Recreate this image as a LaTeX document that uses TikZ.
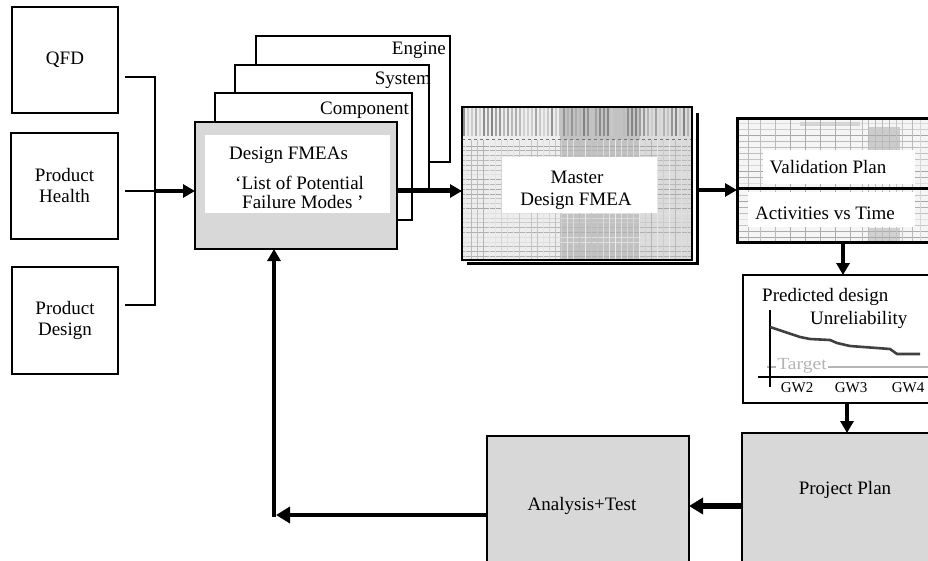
\documentclass[tikz,border=0pt]{standalone}
\usepackage{fontspec}
\setmainfont{Liberation Serif}
\usetikzlibrary{arrows.meta,calc}
\definecolor{boxgray}{RGB}{216,216,216}
\definecolor{tgtgray}{RGB}{180,180,180}
\newcommand\fbig{\fontsize{19}{21}\selectfont}
\newcommand\fsmall{\fontsize{15}{16}\selectfont}
\begin{document}
\begin{tikzpicture}[x=1pt,y=-1pt,
  lbox/.style={draw, line width=2.6pt, inner sep=0pt, outer sep=0pt, font=\fbig, align=center},
  sbox/.style={draw, fill=white, line width=2.5pt, inner sep=0pt, outer sep=0pt},
  gbox/.style={draw, fill=boxgray, line width=2.3pt, inner sep=0pt, outer sep=0pt},
  frame/.style={draw, inner sep=0pt, outer sep=0pt},
  txt/.style={inner sep=0pt, font=\fbig},
  conn/.style={line width=2.4pt},
  arr/.style={-{Triangle[length=12pt,width=13pt]}},
  bigarr/.style={-{Triangle[length=14pt,width=16pt]}}]
\useasboundingbox (0,0) rectangle (928,561);

% ---------- left input boxes
\node[lbox, minimum width=106pt, minimum height=106pt] (qfd) at (65,60) {QFD};
\node[lbox, minimum width=107pt, minimum height=106pt] (ph) at (64.5,186) {Product\\Health};
\node[lbox, minimum width=106pt, minimum height=107pt] (pd) at (65,320.5) {Product\\Design};

% ---------- stacked FMEA boxes
\node[sbox, minimum width=194pt, minimum height=126pt] (eng) at (353,99) {};
\node[txt, anchor=east] (engl) at (446,50) {Engine};
\node[sbox, minimum width=194pt, minimum height=127pt] (sys) at (332,128.5) {};
\node[txt, anchor=east] (sysl) at (431,80) {System};
\node[sbox, minimum width=197pt, minimum height=127pt] (comp) at (313.5,156.5) {};
\node[txt, anchor=east] (compl) at (409,110) {Component};

\node[gbox, minimum width=202pt, minimum height=127pt] (fmea) at (296,185.5) {};
\fill[white] (205,135) rectangle (390,213);
\node[txt, anchor=west] (fmeat) at (229,155) {Design FMEAs};
\node[txt, anchor=west] (fmeal1) at (235,183) {‘List of Potential};
\node[txt, anchor=west] (fmeal2) at (242,202) {Failure Modes ’};

% ---------- master design FMEA (spreadsheet look)
\draw[line width=3pt] (697,113) -- (697,263) -- (467,263);
\begin{scope}
  \clip (462,107) rectangle (692,260);
  \fill[black!7] (462,107) rectangle (692,260);
  \fill[black!24] (560,107) rectangle (640,260);
  \fill[black!14] (640,107) rectangle (692,260);
  \pgfmathsetseed{7}
  \foreach \i in {0,...,57} {
    \pgfmathtruncatemacro\g{15+35*rnd}
    \draw[black!\g, line width=1.2pt] (464+4*\i,107) -- (464+4*\i,136);
  }
  \draw[black!55, dashed, line width=1pt] (462,140) -- (692,140);
  \foreach \j in {0,...,23} {
    \pgfmathtruncatemacro\g{12+25*rnd}
    \draw[black!\g, line width=0.9pt] (462,146+4.8*\j) -- (692,146+4.8*\j);
  }
  \foreach \i in {0,...,37} {
    \pgfmathtruncatemacro\g{8+22*rnd}
    \draw[black!\g, line width=0.8pt] (465+6*\i,140) -- (465+6*\i,260);
  }
\end{scope}
\node[frame, line width=2pt, minimum width=230pt, minimum height=153pt] (master) at (577,183.5) {};
\fill[white] (502,157) rectangle (657,213);
\node[txt] (mt1) at (577,177) {Master};
\node[txt] (mt2) at (576,201) {Design FMEA};

% ---------- validation plan (spreadsheet look)
\begin{scope}
  \clip (737,119) rectangle (930,243);
  \fill[black!4] (737,119) rectangle (930,243);
  \fill[black!18] (800,122) rectangle (860,126);
  \fill[black!20] (868,127) rectangle (900,150);
  \fill[black!18] (868,228) rectangle (900,242);
  \pgfmathsetseed{3}
  \foreach \j in {0,...,20} {
    \pgfmathtruncatemacro\g{12+25*rnd}
    \draw[black!\g, line width=0.7pt] (737,123+6*\j) -- (930,123+6*\j);
  }
  \foreach \x in {748,760,775,790,805,820,835,850,862,868,875,882,889,896,902,912,920} {
    \pgfmathtruncatemacro\g{12+22*rnd}
    \draw[black!\g, line width=0.7pt] (\x,119) -- (\x,243);
  }
\end{scope}
\node[frame, line width=3pt, minimum width=198pt, minimum height=124pt] (val) at (836,181) {};
\coordinate (ydiv) at (0,189);
\draw[line width=3pt] (val.west |- ydiv) -- (val.east |- ydiv);
\fill[white] (763,150) rectangle (915,184);
\fill[white] (748,192) rectangle (915,227);
\node[txt] (valt) at (828,167) {Validation Plan};
\node[txt] (actt) at (825,213) {Activities vs Time};

% ---------- predicted unreliability chart
\node[frame, fill=white, line width=2.5pt, minimum width=192pt, minimum height=128pt] (pred) at (839,339) {};
\node[txt, anchor=west] (predt) at (762,297) {Predicted design};
\node[txt, anchor=west] (unrel) at (810,320) {Unreliability};
\draw[tgtgray, line width=2.2pt] (767,367) -- (930,367);
\node[inner sep=1pt, fill=white, text=tgtgray, font=\fontsize{17}{18}\selectfont, xscale=1.15] (tgt) at (802,366) {Target};
\draw[line width=1.6pt] (770,310) -- (770,387);
\draw[line width=2pt] (758,377) -- (930,377);
\draw[black!75, line width=2.6pt, line join=round] (770,327) -- (788,333) -- (800,337) -- (810,339) -- (830,340)
  -- (837,343) -- (850,346) -- (890,349) -- (897,354) -- (920,354);
\node[inner sep=0pt, font=\fsmall] (gw2) at (797,388) {GW2};
\node[inner sep=0pt, font=\fsmall] (gw3) at (851,388) {GW3};
\node[inner sep=0pt, font=\fsmall] (gw4) at (908,388) {GW4};

% ---------- bottom boxes
\node[gbox, line width=2pt, minimum width=193pt, minimum height=137pt] (pp) at (838.5,501.5) {};
\node[txt] (ppt) at (845,490) {Project Plan};
\node[gbox, line width=2pt, minimum width=202pt, minimum height=134pt] (an) at (588,503) {};
\node[txt] (ant) at (582,506) {Analysis+Test};

% ---------- connectors
\coordinate (j) at (155,191);
\draw[conn] ([shift={(7,17)}]qfd.east) -| (j);
\draw[conn] (j) |- ([shift={(7,-15.5)}]pd.east);
\draw[conn] ([shift={(7,5)}]ph.east) -- (j);
\draw[line width=4.5pt, arr] (j) -- (j -| fmea.west);

\coordinate (ya) at (0,191);
\draw[line width=5pt, arr] (fmea.east |- ya) -- (master.west |- ya);

\coordinate (yb) at (0,190);
\draw[line width=3.5pt, arr] ([xshift=5pt]master.east |- yb) -- (val.west |- yb);

\coordinate (xc) at (843,0);
\draw[line width=4pt, arr] (val.south -| xc) -- (pred.north -| xc);

\coordinate (xd) at (847,0);
\draw[line width=3.5pt, arr] (pred.south -| xd) -- (pp.north -| xd);

\coordinate (yd) at (0,506);
\draw[line width=6pt, bigarr] (pp.west |- yd) -- (an.east |- yd);

\coordinate (corner) at (274,515);
\draw[line width=3.5pt, bigarr] (an.west |- corner) -- ([xshift=2pt]corner);
\draw[line width=3.5pt, arr] ([yshift=-1.75pt]corner) -- (fmea.south -| corner);
\end{tikzpicture}
\end{document}
